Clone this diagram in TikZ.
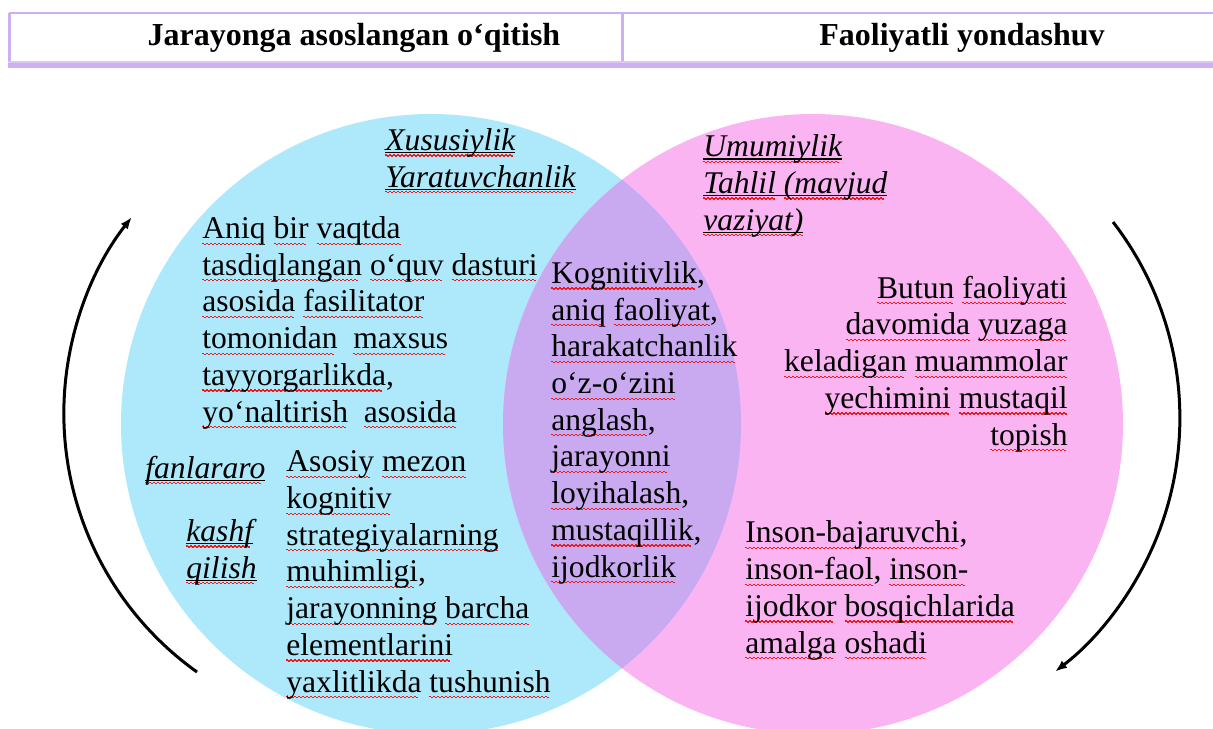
\documentclass[tikz,border=0pt]{standalone}
\usepackage{fontspec}
\setmainfont{Liberation Serif}
\usepackage{xcolor}
\usepackage{tikz}
\usetikzlibrary{arrows.meta}

\definecolor{venncyan}{HTML}{AEE9FB}
\definecolor{vennpink}{HTML}{FBB4F2}
\definecolor{vennmix}{HTML}{C9AAF0}
\definecolor{tabrule}{HTML}{CDB0F2}
\definecolor{wavered}{HTML}{F21818}

% spell-check squiggles under words
\newsavebox\sqbox
\newcommand\wavebit{\hbox{\vrule height -2.0pt depth 2.6pt width 1pt\vrule height -2.5pt depth 3.1pt width 1pt}}
\newcommand\sq[1]{\sbox\sqbox{#1}\rlap{\color{wavered}\hbox to \wd\sqbox{\leaders\wavebit\hfil}}\usebox\sqbox}
\newcommand\sqi[1]{\sbox\sqbox{#1}\rlap{\vrule height -0.9pt depth 1.5pt width \wd\sqbox}\rlap{\color{wavered}\hbox to \wd\sqbox{\leaders\wavebit\hfil}}\usebox\sqbox}
\newcommand\uln[1]{\sbox\sqbox{#1}\rlap{\vrule height -0.9pt depth 1.5pt width \wd\sqbox}\usebox\sqbox}
\newcommand\bodyfont{\fontsize{15.8}{18.35}\selectfont}

\begin{document}
\begin{tikzpicture}[x=0.5pt,y=-0.5pt,
  txt/.style={font=\bodyfont, inner sep=0pt, align=left, anchor=base west},
  itxt/.style={txt, font=\bodyfont\itshape},
  headtxt/.style={font=\fontsize{16}{19}\selectfont\bfseries, inner sep=0pt, anchor=base},
  cyclearrow/.style={line width=1.5pt, -{Latex[length=6pt,width=4.5pt]}}]
  \clip (0,0) rectangle (1213,728);

  % table header
  \draw[tabrule, line width=1pt] (9,13) -- (1213,13);
  \draw[tabrule, line width=1.4pt] (9.5,12.5) -- (9.5,64);
  \draw[tabrule, line width=1.2pt] (622.5,13) -- (622.5,62);
  \fill[tabrule!70!white] (8,60.5) rectangle (1213,63);
  \fill[tabrule] (8,63) rectangle (1213,68);
  \node[headtxt] (hleft) at (354,45) {Jarayonga asoslangan o‘qitish};
  \node[headtxt] (hright) at (962,45) {Faoliyatli yondashuv};

  % venn circles
  \fill[venncyan] (431,424) circle (310);
  \fill[vennpink] (813,424) circle (310);
  \begin{scope}
    \clip (431,424) circle (310);
    \fill[vennmix] (813,424) circle (310);
  \end{scope}

  % left circle (nodes sit on the baseline of their last line)
  \node[itxt] (xusus) at (385,187) {\sqi{Xususiylik}\\\sqi{Yaratuvchanlik}};
  \node[txt] (aniq) at (202,422) {\sq{Aniq} \sq{bir} \sq{vaqtda}\\
    \sq{tasdiqlangan} \sq{o‘quv} \sq{dasturi}\\
    \sq{asosida} \sq{fasilitator}\\
    \sq{tomonidan}\ \ \sq{maxsus}\\
    \sq{tayyorgarlikda},\\
    \sq{yo‘naltirish}\ \ \sq{asosida}};
  \node[itxt] (fanlar) at (145,478) {\sqi{fanlararo}};
  \node[itxt] (kashf) at (186,578) {\sqi{kashf}\\\sqi{qilish}};
  \node[txt] (asosiy) at (286,692) {\sq{Asosiy} \sq{mezon}\\
    \sq{kognitiv}\\
    \sq{strategiyalarning}\\
    \sq{muhimligi},\\
    \sq{jarayonning} \sq{barcha}\\
    \sq{elementlarini}\\
    \sq{yaxlitlikda} \sq{tushunish}};

  % overlap
  \node[txt] (kogn) at (551,577) {\sq{Kognitivlik},\\
    \sq{aniq} \sq{faoliyat},\\
    \sq{harakatchanlik}\\
    \sq{o‘z-o‘zini}\\
    \sq{anglash},\\
    \sq{jarayonni}\\
    \sq{loyihalash},\\
    \sq{mustaqillik},\\
    \sq{ijodkorlik}};

  % right circle
  \node[itxt] (umum) at (703,230) {\sqi{Umumiylik}\\
    \sqi{Tahlil}\uln{\ }\sqi{(mavjud}\\
    \sqi{vaziyat)}};
  \node[txt, align=right, anchor=base east] (butun) at (1068,445) {\sq{Butun} \sq{faoliyati}\\
    \sq{davomida} \sq{yuzaga}\\
    \sq{keladigan} \sq{muammolar}\\
    \sq{yechimini} \sq{mustaqil}\\
    \sq{topish}};
  \node[txt] (inson) at (745,653) {\sq{Inson-bajaruvchi},\\
    \sq{inson-faol}, \sq{inson-}\\
    \sq{ijodkor} \sq{bosqichlarida}\\
    \sq{amalga} \sq{oshadi}};

  % cycle arrows
  \coordinate (larc) at (197,672);
  \draw[cyclearrow] (larc) arc[start angle=125.5, end angle=218.2, radius=317.6];
  \coordinate (rarc) at (1113,222);
  \draw[cyclearrow] (rarc) arc[start angle=-37.7, end angle=52.4, radius=320.3];
\end{tikzpicture}
\end{document}
